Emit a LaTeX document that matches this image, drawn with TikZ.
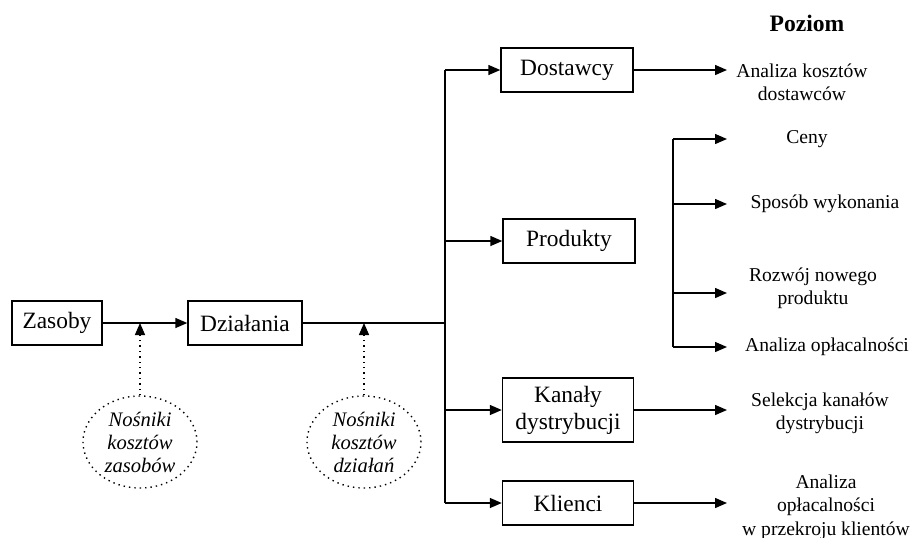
\documentclass[tikz,border=0pt]{standalone}
\usepackage{fontspec}
\setmainfont{Liberation Serif}
\usetikzlibrary{shapes.geometric,arrows.meta}
\begin{document}
\begin{tikzpicture}[x=0.5pt,y=-0.5pt,
 box/.style={draw,line width=0.7pt,minimum height=22pt,inner sep=2pt,font=\fontsize{11.7}{13.5}\selectfont,align=center},
 lbl/.style={font=\fontsize{9.8}{11.3}\selectfont,align=center,inner sep=0pt},
 drv/.style={draw,dotted,line width=0.7pt,ellipse,minimum width=57pt,minimum height=46pt,inner sep=0pt,font=\fontsize{10.3}{11.5}\selectfont\itshape,align=center},
 arr/.style={line width=0.7pt,-{Triangle[length=6pt,width=5pt]}},
 ln/.style={line width=0.7pt}]
\useasboundingbox (0,0) rectangle (918,537);
% boxes
\node[box,minimum width=45pt] (zas) at (57,323) {Zasoby};
\node[box,minimum width=57pt] (dzi) at (245,323) {Działania};
\node[box,minimum width=66pt] (dos) at (567,70) {Dostawcy};
\node[box,minimum width=66pt] (pro) at (569,241) {Produkty};
\node[box,minimum width=65.5pt,minimum height=32pt] (kan) at (568,410) {Kanały\\dystrybucji};
\node[box,minimum width=65.5pt] (kli) at (568,503) {Klienci};
% ellipses
\node[drv] (e1) at (140,442) {Nośniki\\kosztów\\zasobów};
\node[drv] (e2) at (364,442) {Nośniki\\kosztów\\działań};
% coordinates
\coordinate (c1) at (140,323);
\coordinate (c2) at (364,323);
\coordinate (bt) at (445,70);
\coordinate (bb) at (445,503);
\coordinate (sb1) at (673,139);
\coordinate (sb2) at (673,204);
\coordinate (sb3) at (673,293);
\coordinate (sb4) at (673,347);
\coordinate (a1) at (727,70);
\coordinate (a2) at (727,139);
\coordinate (a3) at (727,204);
\coordinate (a4) at (727,293);
\coordinate (a5) at (727,347);
\coordinate (a6) at (727,410);
\coordinate (a7) at (727,503);
% labels
\node[font=\fontsize{11.8}{13}\selectfont\bfseries] (poz) at (807,23) {Poziom};
\node[lbl] (t1) at (802,82) {Analiza kosztów\\dostawców};
\node[lbl] (t2) at (807,139) {Ceny};
\node[lbl] (t3) at (825,204) {Sposób wykonania};
\node[lbl] (t4) at (813,288) {Rozwój nowego\\produktu};
\node[lbl] (t5) at (827,347) {Analiza opłacalności};
\node[lbl] (t6) at (820,413) {Selekcja kanałów\\dystrybucji};
\node[lbl,font=\fontsize{9.8}{11.8}\selectfont] (t7) at (826,507) {Analiza\\opłacalności\\w przekroju klientów};
% connectors
\draw[arr] (zas.east) -- (zas.east -| dzi.west);
\draw[ln] (dzi.east) -- (dzi.east -| bt);
\draw[ln] (bt) -- (bb);
\draw[arr] (bt) -- (dos.west);
\draw[arr] (bt |- pro.west) -- (pro.west);
\draw[arr] (bt |- kan.west) -- (kan.west);
\draw[arr] (bb) -- (kli.west);
\draw[arr,dotted] (e1.north) -- (c1);
\draw[arr,dotted] (e2.north) -- (c2);
\draw[arr] (dos.east) -- (a1);
\draw[ln] (sb1) -- (sb4);
\draw[arr] (sb1) -- (a2);
\draw[arr] (sb2) -- (a3);
\draw[arr] (sb3) -- (a4);
\draw[arr] (sb4) -- (a5);
\draw[arr] (kan.east) -- (a6);
\draw[arr] (kli.east) -- (a7);
\end{tikzpicture}
\end{document}
